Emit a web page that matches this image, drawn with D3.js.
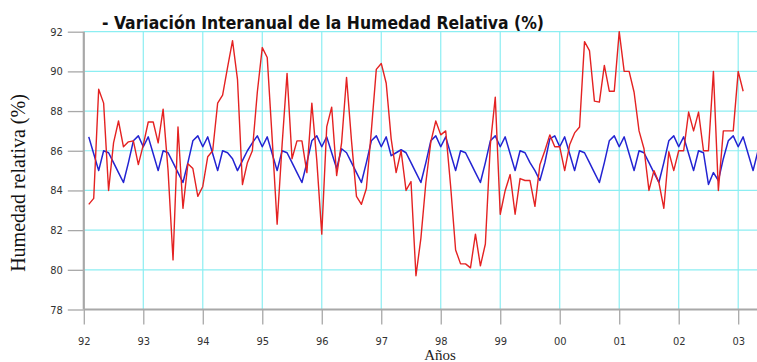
<!DOCTYPE html>
<html>
<head>
<meta charset="utf-8">
<script src="https://cdn.jsdelivr.net/npm/d3@7"></script>
<style>
  body { margin: 0; background: #fff; }
  svg { display: block; }
</style>
</head>
<body>
<div id="chart"></div>
<script>
// monthly values, Jan 1992 onwards (one row per year)
const humedadReal = [
  83.3, 83.6, 89.1, 88.4, 84.0, 86.4, 87.5, 86.2, 86.45, 86.5, 85.3, 86.3,
  87.45, 87.45, 86.4, 88.1, 85.0, 80.5, 87.2, 83.1, 85.35, 85.1, 83.7, 84.2,
  85.7, 86.0, 88.4, 88.8, 90.2, 91.55, 89.6, 84.3, 85.4, 86.0, 88.95, 91.2,
  90.7, 86.6, 82.3, 86.3, 89.9, 85.6, 86.5, 86.5, 84.9, 88.4, 85.5, 81.8,
  87.2, 88.2, 84.75, 86.4, 89.7, 86.5, 83.7, 83.3, 84.1, 87.0, 90.1, 90.4,
  89.4, 86.6, 84.9, 86.0, 84.0, 84.45, 79.7, 81.6, 84.4, 86.45, 87.5, 86.8,
  87.0, 84.2, 81.0, 80.3, 80.3, 80.1, 81.8, 80.2, 81.3, 86.3, 88.7, 82.8,
  84.0, 84.8, 82.8, 84.6, 84.5, 84.5, 83.2, 85.3, 86.0, 86.8, 86.2, 86.2,
  85.0, 86.3, 86.9, 87.2, 91.5, 91.05, 88.5, 88.45, 90.3, 89.0, 89.0, 92.0,
  90.0, 90.0, 88.95, 87.0, 86.1, 84.0, 85.0, 84.4, 83.1, 85.95, 85.0, 86.0,
  86.0, 87.95, 87.0, 87.95, 86.0, 86.0, 90.0, 84.0, 87.0, 87.0, 87.0, 90.0,
  89.0
];

const humedadMedia = [
  86.7, 85.85, 85.0, 86.0, 85.9, 85.4, 84.9, 84.4, 85.4, 86.5, 86.75, 86.2,
  86.7, 85.85, 85.0, 86.0, 85.9, 85.4, 84.9, 84.4, 85.4, 86.5, 86.75, 86.2,
  86.7, 85.85, 85.0, 86.0, 85.9, 85.6, 85.0, 85.5, 86.0, 86.4, 86.75, 86.2,
  86.7, 85.85, 85.0, 86.0, 85.9, 85.4, 84.9, 84.4, 85.4, 86.5, 86.75, 86.2,
  86.7, 85.9, 85.1, 86.1, 85.9, 85.4, 84.9, 84.4, 85.4, 86.5, 86.75, 86.2,
  86.7, 85.75, 85.9, 86.05, 85.9, 85.4, 84.9, 84.4, 85.4, 86.5, 86.75, 86.2,
  86.7, 85.85, 85.0, 86.0, 85.9, 85.4, 84.9, 84.4, 85.4, 86.5, 86.75, 86.2,
  86.7, 85.85, 85.0, 86.0, 85.9, 85.4, 85.0, 84.5, 85.4, 86.6, 86.75, 86.2,
  86.7, 85.85, 85.0, 86.0, 85.9, 85.4, 84.9, 84.4, 85.4, 86.5, 86.75, 86.2,
  86.7, 85.85, 85.0, 86.0, 85.9, 85.4, 84.9, 84.4, 85.4, 86.5, 86.75, 86.2,
  86.7, 85.85, 85.0, 86.0, 85.9, 84.3, 84.9, 84.5, 85.6, 86.5, 86.75, 86.2,
  86.7, 85.85, 85.0, 86.0
];

const firstYear = 92;
const yearTicks = [92, 93, 94, 95, 96, 97, 98, 99, 100, 101, 102, 103];
const yearLabels = ["92", "93", "94", "95", "96", "97", "98", "99", "00", "01", "02", "03"];
const humTicks = [78, 80, 82, 84, 86, 88, 90, 92];

const width = 757, height = 362;
const plotLeft = 83.8, plotRight = 757, plotTop = 31.7, plotBottom = 309.5;

const svg = d3.select("#chart").append("svg")
  .attr("width", width)
  .attr("height", height);

const x = d3.scaleLinear().domain([92, 103]).range([plotLeft, 738.2]);
const y = d3.scaleLinear().domain([78, 92]).range([plotBottom, plotTop]);

// month i -> year + (month)/12, so Dec sits on the next year's line
const xMonth = i => x(firstYear + (i + 1) / 12);

svg.append("clipPath").attr("id", "plot")
  .append("rect")
  .attr("x", plotLeft).attr("y", 0)
  .attr("width", plotRight - plotLeft).attr("height", plotBottom + 2);

const gridColor = "#8ceef2";

// grid
svg.append("g")
  .selectAll("line")
  .data(humTicks.filter(d => d > 78))
  .join("line")
    .attr("x1", plotLeft).attr("x2", plotRight)
    .attr("y1", d => y(d)).attr("y2", d => y(d))
    .attr("stroke", gridColor).attr("stroke-width", 1.2);

svg.append("g")
  .selectAll("line")
  .data(yearTicks.slice(1))
  .join("line")
    .attr("x1", d => x(d)).attr("x2", d => x(d))
    .attr("y1", plotTop).attr("y2", plotBottom)
    .attr("stroke", gridColor).attr("stroke-width", 1.2);

// axes (gray frame with outside ticks)
const axisColor = "#a8a8a8";
const yAxis = svg.append("g")
  .attr("transform", `translate(${plotLeft},0)`)
  .call(d3.axisLeft(y).tickValues(humTicks).tickSize(16).tickPadding(5).tickFormat(d3.format("d")));
yAxis.select(".domain").remove();
yAxis.selectAll(".tick line").attr("stroke", axisColor).attr("stroke-width", 1.3);

const xAxis = svg.append("g")
  .attr("transform", `translate(0,${plotBottom})`)
  .call(d3.axisBottom(x).tickValues(yearTicks).tickSize(15).tickPadding(13)
    .tickFormat((d, i) => yearLabels[i]));
xAxis.select(".domain").remove();
xAxis.selectAll(".tick line").attr("stroke", axisColor).attr("stroke-width", 1.3);

svg.selectAll(".tick text")
  .attr("fill", "#333")
  .style("font-family", "'Liberation Sans Narrow', 'Arial Narrow', 'DejaVu Sans Condensed', sans-serif")
  .style("font-size", "11px");

svg.append("line")
  .attr("x1", plotLeft).attr("x2", plotRight)
  .attr("y1", plotBottom).attr("y2", plotBottom)
  .attr("stroke", axisColor).attr("stroke-width", 2.2);
svg.append("line")
  .attr("x1", plotLeft).attr("x2", plotLeft)
  .attr("y1", plotTop).attr("y2", plotBottom)
  .attr("stroke", axisColor).attr("stroke-width", 2.2);

// series
const line = d3.line()
  .x((d, i) => xMonth(i))
  .y(d => y(d));

const series = svg.append("g").attr("clip-path", "url(#plot)");
series.append("path")
  .datum(humedadMedia)
  .attr("d", line)
  .attr("fill", "none")
  .attr("stroke", "#2323d2")
  .attr("stroke-width", 1.5)
  .attr("stroke-linejoin", "round");
series.append("path")
  .datum(humedadReal)
  .attr("d", line)
  .attr("fill", "none")
  .attr("stroke", "#e42222")
  .attr("stroke-width", 1.4)
  .attr("stroke-linejoin", "round");

// texts
svg.append("text")
  .attr("x", 102).attr("y", 29)
  .attr("textLength", 442)
  .attr("lengthAdjust", "spacingAndGlyphs")
  .style("font-family", "'Comic Sans MS', 'DejaVu Sans Condensed', 'DejaVu Sans', sans-serif")
  .style("font-weight", "bold")
  .style("font-size", "18px")
  .attr("fill", "#111")
  .text("- Variación Interanual de la Humedad Relativa (%)");

svg.append("text")
  .attr("transform", "translate(25,183) rotate(-90)")
  .attr("text-anchor", "middle")
  .style("font-family", "'Liberation Serif', 'Times New Roman', serif")
  .style("font-size", "20px")
  .attr("fill", "#111")
  .text("Humedad relativa (%)");

svg.append("text")
  .attr("x", 440).attr("y", 360)
  .attr("text-anchor", "middle")
  .style("font-family", "'Liberation Serif', 'Times New Roman', serif")
  .style("font-size", "15px")
  .attr("fill", "#222")
  .text("Años");
</script>
</body>
</html>
